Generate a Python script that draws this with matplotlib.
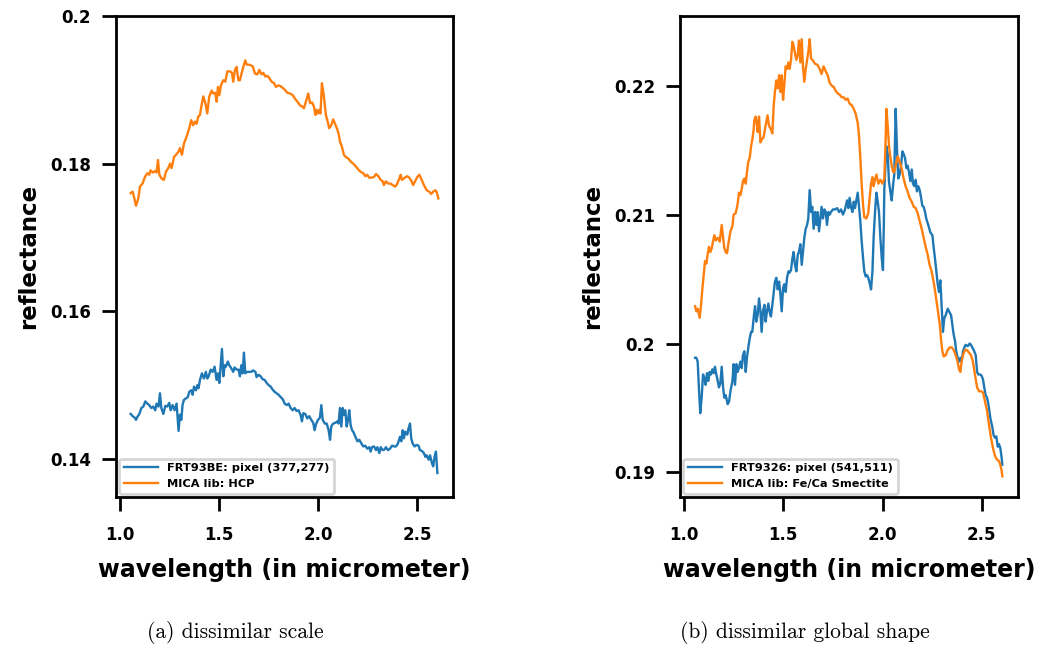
import matplotlib
matplotlib.use("Agg")
import matplotlib.pyplot as plt

# ---- (a) FRT93BE pixel vs MICA HCP ----
a_pix_wl = [
    1.054, 1.064, 1.074, 1.081, 1.088, 1.098, 1.108, 1.118, 1.128, 1.138,
    1.148, 1.158, 1.168, 1.178, 1.185, 1.195, 1.202, 1.209, 1.219, 1.229,
    1.239, 1.249, 1.256, 1.266, 1.276, 1.286, 1.296, 1.303, 1.310, 1.316,
    1.323, 1.333, 1.343, 1.350, 1.360, 1.367, 1.374, 1.384, 1.391, 1.397,
    1.404, 1.414, 1.424, 1.434, 1.441, 1.448, 1.458, 1.468, 1.478, 1.488,
    1.495, 1.502, 1.508, 1.515, 1.522, 1.529, 1.535, 1.545, 1.552, 1.562,
    1.572, 1.579, 1.589, 1.599, 1.606, 1.613, 1.620, 1.626, 1.633, 1.640,
    1.650, 1.663, 1.673, 1.684, 1.690, 1.700, 1.710, 1.721, 1.731, 1.741,
    1.751, 1.761, 1.771, 1.781, 1.791, 1.801, 1.811, 1.822, 1.832, 1.842,
    1.852, 1.862, 1.872, 1.882, 1.892, 1.902, 1.912, 1.919, 1.926, 1.936,
    1.946, 1.956, 1.966, 1.976, 1.983, 1.990, 2.000, 2.010, 2.017, 2.024,
    2.034, 2.044, 2.054, 2.061, 2.067, 2.077, 2.088, 2.098, 2.104, 2.111,
    2.118, 2.125, 2.131, 2.138, 2.145, 2.152, 2.158, 2.165, 2.172, 2.178,
    2.189, 2.199, 2.209, 2.219, 2.229, 2.239, 2.249, 2.259, 2.266, 2.273,
    2.283, 2.293, 2.300, 2.310, 2.317, 2.327, 2.337, 2.343, 2.354, 2.364,
    2.374, 2.384, 2.394, 2.404, 2.414, 2.421, 2.428, 2.434, 2.441, 2.451,
    2.458, 2.465, 2.471, 2.478, 2.488, 2.498, 2.508, 2.515, 2.525, 2.535,
    2.542, 2.549, 2.559, 2.566, 2.576, 2.582, 2.589, 2.596, 2.603,
]
a_pix_refl = [
    0.1461, 0.1458, 0.1456, 0.1453, 0.1457, 0.1461, 0.1469, 0.1471, 0.1478, 0.1475,
    0.1473, 0.1469, 0.1471, 0.1466, 0.1475, 0.1471, 0.1489, 0.1469, 0.1461, 0.1472,
    0.1471, 0.1476, 0.1466, 0.1473, 0.1466, 0.1475, 0.1438, 0.1460, 0.1453, 0.1473,
    0.1480, 0.1482, 0.1484, 0.1491, 0.1493, 0.1487, 0.1498, 0.1493, 0.1500, 0.1496,
    0.1507, 0.1516, 0.1509, 0.1518, 0.1509, 0.1512, 0.1521, 0.1518, 0.1525, 0.1507,
    0.1516, 0.1503, 0.1525, 0.1549, 0.1512, 0.1527, 0.1525, 0.1532, 0.1527, 0.1523,
    0.1518, 0.1524, 0.1521, 0.1521, 0.1512, 0.1527, 0.1516, 0.1544, 0.1516, 0.1518,
    0.1518, 0.1518, 0.1520, 0.1518, 0.1511, 0.1514, 0.1512, 0.1508, 0.1507, 0.1503,
    0.1500, 0.1498, 0.1494, 0.1491, 0.1489, 0.1487, 0.1484, 0.1481, 0.1475, 0.1473,
    0.1475, 0.1469, 0.1466, 0.1469, 0.1465, 0.1466, 0.1460, 0.1451, 0.1462, 0.1461,
    0.1455, 0.1458, 0.1453, 0.1449, 0.1439, 0.1447, 0.1453, 0.1456, 0.1473, 0.1453,
    0.1448, 0.1448, 0.1439, 0.1426, 0.1444, 0.1448, 0.1449, 0.1451, 0.1448, 0.1469,
    0.1444, 0.1469, 0.1460, 0.1466, 0.1444, 0.1453, 0.1466, 0.1446, 0.1439, 0.1437,
    0.1430, 0.1424, 0.1426, 0.1421, 0.1417, 0.1418, 0.1414, 0.1416, 0.1410, 0.1416,
    0.1417, 0.1412, 0.1416, 0.1408, 0.1416, 0.1412, 0.1413, 0.1416, 0.1412, 0.1414,
    0.1418, 0.1417, 0.1417, 0.1421, 0.1430, 0.1424, 0.1439, 0.1428, 0.1437, 0.1433,
    0.1442, 0.1448, 0.1428, 0.1421, 0.1417, 0.1419, 0.1418, 0.1412, 0.1411, 0.1408,
    0.1403, 0.1405, 0.1399, 0.1405, 0.1394, 0.1390, 0.1403, 0.1410, 0.1381,
]
a_lib_wl = [
    1.054, 1.064, 1.071, 1.081, 1.093, 1.101, 1.114, 1.126, 1.138, 1.148,
    1.155, 1.165, 1.177, 1.185, 1.192, 1.199, 1.210, 1.222, 1.232, 1.244,
    1.253, 1.261, 1.273, 1.283, 1.295, 1.303, 1.313, 1.323, 1.337, 1.350,
    1.360, 1.370, 1.379, 1.387, 1.396, 1.404, 1.412, 1.421, 1.431, 1.441,
    1.451, 1.463, 1.471, 1.481, 1.488, 1.495, 1.502, 1.510, 1.522, 1.532,
    1.542, 1.556, 1.566, 1.572, 1.581, 1.589, 1.598, 1.606, 1.614, 1.626,
    1.633, 1.640, 1.653, 1.670, 1.682, 1.694, 1.704, 1.715, 1.724, 1.734,
    1.744, 1.754, 1.766, 1.778, 1.788, 1.800, 1.811, 1.825, 1.833, 1.845,
    1.859, 1.872, 1.884, 1.896, 1.909, 1.923, 1.929, 1.939, 1.951, 1.960,
    1.970, 1.980, 1.987, 1.993, 2.000, 2.007, 2.013, 2.020, 2.030, 2.040,
    2.047, 2.057, 2.067, 2.077, 2.086, 2.094, 2.104, 2.111, 2.121, 2.131,
    2.141, 2.153, 2.165, 2.178, 2.192, 2.204, 2.215, 2.229, 2.239, 2.249,
    2.259, 2.271, 2.283, 2.293, 2.305, 2.317, 2.327, 2.333, 2.343, 2.355,
    2.367, 2.377, 2.389, 2.397, 2.411, 2.418, 2.424, 2.434, 2.444, 2.451,
    2.461, 2.471, 2.481, 2.492, 2.502, 2.512, 2.524, 2.535, 2.549, 2.562,
    2.572, 2.582, 2.593, 2.599, 2.608,
]
a_lib_refl = [
    0.1760, 0.1762, 0.1755, 0.1743, 0.1753, 0.1769, 0.1773, 0.1782, 0.1787, 0.1785,
    0.1791, 0.1788, 0.1790, 0.1788, 0.1805, 0.1785, 0.1780, 0.1778, 0.1789, 0.1794,
    0.1800, 0.1794, 0.1809, 0.1812, 0.1816, 0.1821, 0.1812, 0.1827, 0.1837, 0.1848,
    0.1859, 0.1852, 0.1857, 0.1854, 0.1864, 0.1866, 0.1879, 0.1891, 0.1882, 0.1868,
    0.1891, 0.1899, 0.1895, 0.1896, 0.1884, 0.1904, 0.1893, 0.1906, 0.1913, 0.1911,
    0.1925, 0.1925, 0.1923, 0.1911, 0.1927, 0.1931, 0.1913, 0.1913, 0.1922, 0.1934,
    0.1940, 0.1934, 0.1934, 0.1932, 0.1922, 0.1921, 0.1927, 0.1921, 0.1923, 0.1918,
    0.1919, 0.1916, 0.1911, 0.1909, 0.1904, 0.1906, 0.1905, 0.1902, 0.1900, 0.1896,
    0.1895, 0.1893, 0.1888, 0.1884, 0.1879, 0.1877, 0.1875, 0.1884, 0.1895, 0.1882,
    0.1883, 0.1877, 0.1866, 0.1873, 0.1868, 0.1873, 0.1868, 0.1909, 0.1891, 0.1866,
    0.1859, 0.1848, 0.1852, 0.1860, 0.1854, 0.1849, 0.1841, 0.1830, 0.1823, 0.1812,
    0.1809, 0.1807, 0.1803, 0.1800, 0.1796, 0.1792, 0.1789, 0.1787, 0.1783, 0.1785,
    0.1781, 0.1781, 0.1782, 0.1786, 0.1783, 0.1778, 0.1776, 0.1771, 0.1776, 0.1773,
    0.1773, 0.1771, 0.1769, 0.1771, 0.1780, 0.1785, 0.1778, 0.1780, 0.1782, 0.1783,
    0.1781, 0.1777, 0.1771, 0.1777, 0.1782, 0.1785, 0.1778, 0.1771, 0.1764, 0.1762,
    0.1759, 0.1762, 0.1764, 0.1762, 0.1753,
]

# ---- (b) FRT9326 pixel vs MICA Fe/Ca smectite ----
b_pix_wl = [
    1.056, 1.062, 1.069, 1.076, 1.082, 1.089, 1.096, 1.103, 1.109, 1.116,
    1.123, 1.129, 1.136, 1.143, 1.150, 1.156, 1.163, 1.170, 1.176, 1.183,
    1.190, 1.197, 1.203, 1.210, 1.220, 1.227, 1.234, 1.244, 1.250, 1.257,
    1.264, 1.270, 1.277, 1.284, 1.291, 1.297, 1.304, 1.311, 1.317, 1.324,
    1.331, 1.338, 1.344, 1.351, 1.358, 1.364, 1.371, 1.378, 1.385, 1.391,
    1.398, 1.405, 1.411, 1.418, 1.425, 1.432, 1.438, 1.445, 1.452, 1.458,
    1.465, 1.472, 1.479, 1.485, 1.492, 1.499, 1.505, 1.512, 1.519, 1.526,
    1.532, 1.539, 1.546, 1.552, 1.559, 1.566, 1.573, 1.579, 1.586, 1.593,
    1.599, 1.606, 1.613, 1.620, 1.626, 1.633, 1.640, 1.646, 1.653, 1.660,
    1.667, 1.673, 1.680, 1.687, 1.693, 1.700, 1.707, 1.714, 1.720, 1.727,
    1.734, 1.740, 1.750, 1.761, 1.771, 1.781, 1.791, 1.801, 1.811, 1.821,
    1.828, 1.834, 1.841, 1.848, 1.855, 1.861, 1.868, 1.875, 1.881, 1.888,
    1.895, 1.902, 1.908, 1.915, 1.922, 1.928, 1.935, 1.942, 1.949, 1.955,
    1.962, 1.969, 1.975, 1.982, 1.989, 1.996, 2.002, 2.006, 2.009, 2.016,
    2.019, 2.026, 2.032, 2.039, 2.046, 2.053, 2.059, 2.066, 2.073, 2.079,
    2.086, 2.093, 2.100, 2.106, 2.113, 2.120, 2.126, 2.133, 2.140, 2.147,
    2.153, 2.160, 2.167, 2.173, 2.180, 2.187, 2.194, 2.200, 2.207, 2.214,
    2.220, 2.230, 2.241, 2.251, 2.257, 2.264, 2.271, 2.277, 2.284, 2.291,
    2.298, 2.304, 2.311, 2.318, 2.328, 2.335, 2.345, 2.351, 2.358, 2.365,
    2.371, 2.378, 2.385, 2.392, 2.398, 2.405, 2.412, 2.418, 2.429, 2.439,
    2.445, 2.452, 2.459, 2.469, 2.476, 2.482, 2.492, 2.499, 2.506, 2.512,
    2.519, 2.526, 2.533, 2.543, 2.553, 2.559, 2.566, 2.573, 2.580, 2.586,
    2.593, 2.600, 2.603,
]
b_pix_refl = [
    0.1989, 0.1989, 0.1986, 0.1963, 0.1946, 0.1958, 0.1976, 0.1973, 0.1968, 0.1977,
    0.1971, 0.1978, 0.1976, 0.1980, 0.1977, 0.1982, 0.1976, 0.1971, 0.1966, 0.1969,
    0.1982, 0.1966, 0.1958, 0.1960, 0.1953, 0.1955, 0.1963, 0.1971, 0.1984, 0.1968,
    0.1984, 0.1978, 0.1981, 0.1986, 0.1981, 0.1991, 0.1994, 0.1978, 0.1989, 0.1997,
    0.2004, 0.2009, 0.2009, 0.2020, 0.2029, 0.2017, 0.2022, 0.2035, 0.2025, 0.2009,
    0.2025, 0.2030, 0.2017, 0.2025, 0.2031, 0.2024, 0.2021, 0.2030, 0.2040, 0.2048,
    0.2051, 0.2042, 0.2048, 0.2039, 0.2025, 0.2043, 0.2046, 0.2040, 0.2051, 0.2056,
    0.2055, 0.2057, 0.2066, 0.2071, 0.2061, 0.2056, 0.2069, 0.2071, 0.2077, 0.2061,
    0.2071, 0.2082, 0.2089, 0.2092, 0.2097, 0.2119, 0.2102, 0.2106, 0.2089, 0.2102,
    0.2092, 0.2102, 0.2087, 0.2097, 0.2106, 0.2097, 0.2104, 0.2102, 0.2092, 0.2102,
    0.2100, 0.2102, 0.2104, 0.2104, 0.2105, 0.2102, 0.2104, 0.2100, 0.2104, 0.2111,
    0.2105, 0.2113, 0.2106, 0.2102, 0.2110, 0.2105, 0.2111, 0.2117, 0.2107, 0.2095,
    0.2079, 0.2066, 0.2056, 0.2052, 0.2053, 0.2051, 0.2047, 0.2042, 0.2056, 0.2082,
    0.2102, 0.2117, 0.2111, 0.2102, 0.2082, 0.2066, 0.2057, 0.2089, 0.2120, 0.2144,
    0.2153, 0.2147, 0.2126, 0.2118, 0.2111, 0.2123, 0.2131, 0.2182, 0.2149, 0.2128,
    0.2131, 0.2138, 0.2149, 0.2147, 0.2144, 0.2136, 0.2138, 0.2133, 0.2126, 0.2135,
    0.2124, 0.2122, 0.2127, 0.2118, 0.2122, 0.2119, 0.2113, 0.2107, 0.2106, 0.2102,
    0.2097, 0.2092, 0.2086, 0.2084, 0.2075, 0.2066, 0.2056, 0.2047, 0.2040, 0.2049,
    0.2027, 0.2009, 0.2020, 0.2022, 0.2027, 0.2025, 0.2022, 0.2015, 0.2007, 0.2002,
    0.1994, 0.1989, 0.1986, 0.1989, 0.1986, 0.1994, 0.1997, 0.1999, 0.1998, 0.2000,
    0.1999, 0.1997, 0.1995, 0.1991, 0.1978, 0.1976, 0.1976, 0.1975, 0.1972, 0.1966,
    0.1960, 0.1958, 0.1953, 0.1942, 0.1935, 0.1929, 0.1927, 0.1928, 0.1920, 0.1922,
    0.1919, 0.1911, 0.1906,
]
b_lib_wl = [
    1.056, 1.062, 1.069, 1.079, 1.086, 1.093, 1.101, 1.106, 1.113, 1.119,
    1.126, 1.133, 1.140, 1.146, 1.153, 1.160, 1.170, 1.180, 1.190, 1.197,
    1.203, 1.210, 1.217, 1.223, 1.234, 1.244, 1.250, 1.260, 1.269, 1.277,
    1.284, 1.291, 1.297, 1.304, 1.311, 1.317, 1.324, 1.331, 1.338, 1.344,
    1.351, 1.354, 1.361, 1.368, 1.371, 1.378, 1.385, 1.391, 1.401, 1.411,
    1.421, 1.428, 1.438, 1.445, 1.452, 1.458, 1.465, 1.472, 1.479, 1.485,
    1.492, 1.499, 1.505, 1.512, 1.519, 1.526, 1.532, 1.539, 1.546, 1.552,
    1.559, 1.566, 1.573, 1.579, 1.586, 1.593, 1.599, 1.606, 1.613, 1.620,
    1.626, 1.633, 1.640, 1.646, 1.660, 1.673, 1.683, 1.693, 1.703, 1.714,
    1.724, 1.734, 1.744, 1.754, 1.764, 1.774, 1.784, 1.794, 1.804, 1.814,
    1.824, 1.834, 1.844, 1.855, 1.865, 1.875, 1.881, 1.888, 1.895, 1.902,
    1.908, 1.918, 1.928, 1.935, 1.942, 1.949, 1.955, 1.962, 1.969, 1.979,
    1.989, 1.999, 2.009, 2.016, 2.019, 2.026, 2.032, 2.039, 2.046, 2.053,
    2.059, 2.066, 2.076, 2.086, 2.096, 2.106, 2.116, 2.126, 2.136, 2.147,
    2.157, 2.167, 2.177, 2.187, 2.197, 2.207, 2.217, 2.227, 2.237, 2.247,
    2.257, 2.267, 2.277, 2.288, 2.294, 2.301, 2.308, 2.318, 2.328, 2.338,
    2.348, 2.358, 2.368, 2.378, 2.385, 2.392, 2.398, 2.405, 2.415, 2.425,
    2.435, 2.445, 2.455, 2.465, 2.476, 2.486, 2.496, 2.506, 2.516, 2.526,
    2.536, 2.546, 2.556, 2.566, 2.576, 2.586, 2.593, 2.600, 2.603,
]
b_lib_refl = [
    0.2029, 0.2025, 0.2027, 0.2020, 0.2030, 0.2043, 0.2056, 0.2064, 0.2062, 0.2069,
    0.2075, 0.2071, 0.2074, 0.2079, 0.2084, 0.2080, 0.2082, 0.2079, 0.2092, 0.2082,
    0.2074, 0.2071, 0.2070, 0.2077, 0.2087, 0.2091, 0.2100, 0.2101, 0.2107, 0.2117,
    0.2115, 0.2120, 0.2126, 0.2128, 0.2124, 0.2133, 0.2141, 0.2144, 0.2153, 0.2158,
    0.2166, 0.2173, 0.2176, 0.2169, 0.2164, 0.2176, 0.2156, 0.2158, 0.2160, 0.2169,
    0.2177, 0.2169, 0.2166, 0.2163, 0.2185, 0.2195, 0.2204, 0.2198, 0.2208, 0.2195,
    0.2208, 0.2189, 0.2200, 0.2215, 0.2213, 0.2218, 0.2213, 0.2220, 0.2234, 0.2231,
    0.2225, 0.2220, 0.2224, 0.2235, 0.2218, 0.2236, 0.2215, 0.2203, 0.2213, 0.2220,
    0.2226, 0.2236, 0.2221, 0.2220, 0.2217, 0.2216, 0.2213, 0.2209, 0.2215, 0.2211,
    0.2208, 0.2202, 0.2200, 0.2199, 0.2196, 0.2194, 0.2193, 0.2191, 0.2191, 0.2189,
    0.2190, 0.2186, 0.2185, 0.2182, 0.2178, 0.2171, 0.2162, 0.2144, 0.2123, 0.2107,
    0.2098, 0.2097, 0.2101, 0.2113, 0.2124, 0.2129, 0.2122, 0.2127, 0.2131, 0.2124,
    0.2127, 0.2124, 0.2128, 0.2162, 0.2182, 0.2169, 0.2154, 0.2145, 0.2138, 0.2133,
    0.2133, 0.2138, 0.2145, 0.2141, 0.2136, 0.2128, 0.2122, 0.2118, 0.2113, 0.2110,
    0.2106, 0.2105, 0.2101, 0.2095, 0.2089, 0.2082, 0.2075, 0.2069, 0.2061, 0.2056,
    0.2048, 0.2038, 0.2027, 0.2015, 0.2004, 0.1994, 0.1990, 0.1991, 0.1995, 0.1997,
    0.1997, 0.1995, 0.1991, 0.1986, 0.1980, 0.1978, 0.1986, 0.1991, 0.1995, 0.1995,
    0.1993, 0.1991, 0.1986, 0.1976, 0.1966, 0.1963, 0.1963, 0.1962, 0.1955, 0.1948,
    0.1937, 0.1927, 0.1919, 0.1913, 0.1910, 0.1909, 0.1906, 0.1901, 0.1897,
]

x_ticks = [1.0, 1.5, 2.0, 2.5]
x_ticklabels = ["1.0", "1.5", "2.0", "2.5"]
a_yticks = [0.14, 0.16, 0.18, 0.2]
a_yticklabels = ["0.14", "0.16", "0.18", "0.2"]
b_yticks = [0.19, 0.2, 0.21, 0.22]
b_yticklabels = ["0.19", "0.2", "0.21", "0.22"]

a_labels = ["FRT93BE: pixel (377,277)", "MICA lib: HCP"]
b_labels = ["FRT9326: pixel (541,511)", "MICA lib: Fe/Ca Smectite"]
captions = ["(a) dissimilar scale", "(b) dissimilar global shape"]

BLUE = "#1f77b4"
ORANGE = "#ff7f0e"

W, H = 1043, 650
fig = plt.figure(figsize=(W / 100, H / 100), dpi=100)


def style_axes(ax, yticks, yticklabels, ylim):
    ax.set_xlim(0.98, 2.682)
    ax.set_ylim(*ylim)
    ax.set_xticks(x_ticks)
    ax.set_xticklabels(x_ticklabels)
    ax.set_yticks(yticks)
    ax.set_yticklabels(yticklabels)
    for s in ax.spines.values():
        s.set_linewidth(2.0)
    ax.tick_params(axis="both", length=10, width=2.0, labelsize=12)
    ax.tick_params(axis="x", pad=11)
    ax.tick_params(axis="y", pad=8)
    for lab in ax.get_xticklabels() + ax.get_yticklabels():
        lab.set_fontweight("bold")
    ax.set_xlabel("wavelength (in micrometer)", fontsize=17, fontweight="bold", labelpad=10)
    ax.set_ylabel("reflectance", fontsize=16.5, fontweight="bold", labelpad=7)


def add_legend(ax):
    leg = ax.legend(loc="lower left", prop={"weight": "bold", "size": 8.2},
                    handlelength=3.0, borderaxespad=0.3, framealpha=1.0)
    leg.get_frame().set_edgecolor("#d6d6d6")
    leg.get_frame().set_linewidth(2.0)


ax1 = fig.add_axes([116 / W, 1 - 497 / H, 337 / W, 481 / H])
ax1.plot(a_pix_wl, a_pix_refl, color=BLUE, lw=1.7, label=a_labels[0])
ax1.plot(a_lib_wl, a_lib_refl, color=ORANGE, lw=1.7, label=a_labels[1])
style_axes(ax1, a_yticks, a_yticklabels, (0.13485, 0.2))
add_legend(ax1)

ax2 = fig.add_axes([680 / W, 1 - 497 / H, 338 / W, 481 / H])
ax2.plot(b_pix_wl, b_pix_refl, color=BLUE, lw=1.7, label=b_labels[0])
ax2.plot(b_lib_wl, b_lib_refl, color=ORANGE, lw=1.7, label=b_labels[1])
style_axes(ax2, b_yticks, b_yticklabels, (0.1881, 0.2254))
add_legend(ax2)

# LaTeX-like subfigure captions
fig.text(235 / W, 1 - 632 / H, captions[0], fontsize=15.5, family="cmr10",
         ha="center", va="center")
fig.text(805 / W, 1 - 632 / H, captions[1], fontsize=15.5, family="cmr10",
         ha="center", va="center")

fig.savefig("out.png", dpi=100)
